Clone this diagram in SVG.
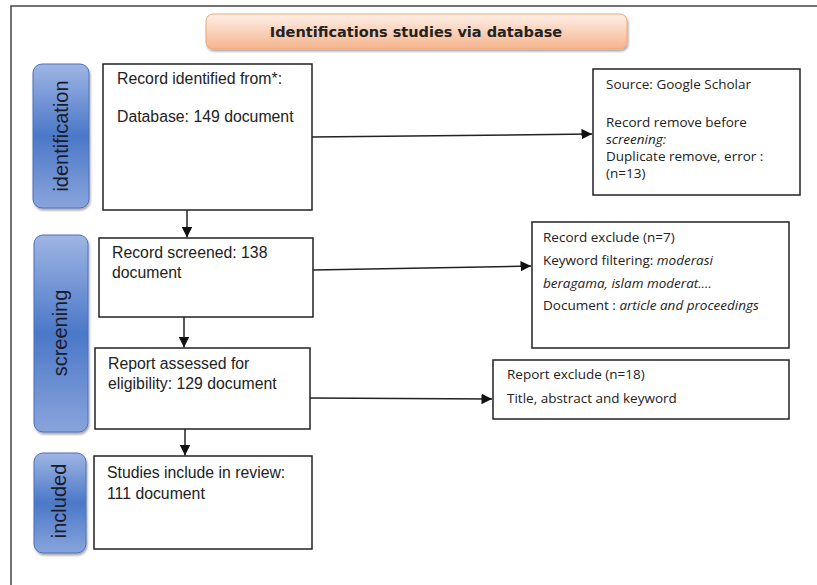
<svg xmlns="http://www.w3.org/2000/svg" width="817" height="585" viewBox="0 0 817 585">
<defs>
<style>
.box{fill:#fff;stroke:#222;stroke-width:1.5}
.t{font-family:"Liberation Sans",Arial,sans-serif;font-size:15.8px;fill:#222}
.c{font-family:"Open Sans","Noto Sans",sans-serif;font-size:13.5px;fill:#222}
.tab{fill:url(#tabg);stroke:#4a70b8;stroke-width:1;filter:url(#sh)}
.tabt{font-family:"Liberation Sans",Arial,sans-serif;font-size:20px;fill:#1c1c28}
.conn{stroke:#222;stroke-width:1.5;fill:none;marker-end:url(#ah)}
</style>
<linearGradient id="tabg" x1="0" y1="0" x2="0" y2="1">
<stop offset="0" stop-color="#9fb5e4"/>
<stop offset="0.5" stop-color="#4b78c8"/>
<stop offset="1" stop-color="#89a4dc"/>
</linearGradient>
<linearGradient id="titg" x1="0" y1="0" x2="0" y2="1">
<stop offset="0" stop-color="#fdf0e8"/>
<stop offset="1" stop-color="#f6b48c"/>
</linearGradient>
<filter id="sh" x="-20%" y="-10%" width="140%" height="120%">
<feDropShadow dx="1" dy="2" stdDeviation="1.2" flood-color="#000" flood-opacity="0.35"/>
</filter>
<marker id="ah" viewBox="0 0 10 10" refX="10" refY="5" markerWidth="7" markerHeight="7" orient="auto" markerUnits="strokeWidth">
<path d="M0,0 L10,5 L0,10 z" fill="#111"/>
</marker>
</defs>
<rect width="817" height="585" fill="#fff"/>
<path d="M11,585 V6 H817" fill="none" stroke="#444" stroke-width="1.5"/>

<g id="title">
<rect x="206" y="14" width="421" height="35" rx="7" fill="url(#titg)" stroke="#f3a577" stroke-width="1" filter="url(#sh)"/>
<text x="416" y="37" text-anchor="middle" font-family="'DejaVu Sans',Verdana,sans-serif" font-weight="bold" font-size="14.5" fill="#222">Identifications studies via database</text>
</g>

<g id="tab-identification">
<rect class="tab" x="33" y="64" width="56" height="144" rx="9"/>
<text class="tabt" transform="translate(68,136) rotate(-90)" text-anchor="middle">identification</text>
</g>
<g id="tab-screening">
<rect class="tab" x="34" y="235" width="54" height="197" rx="9"/>
<text class="tabt" transform="translate(67,333) rotate(-90)" text-anchor="middle">screening</text>
</g>
<g id="tab-included">
<rect class="tab" x="34" y="453" width="52" height="100" rx="9"/>
<text class="tabt" transform="translate(66,501) rotate(-90)" text-anchor="middle">included</text>
</g>

<g id="box-identified">
<rect class="box" x="103" y="64" width="209" height="146"/>
<text class="t" x="117" y="84">Record identified from*:</text>
<text class="t" x="117" y="122">Database: 149 document</text>
</g>
<g id="box-removed">
<rect class="box" x="593" y="69" width="207" height="126"/>
<text class="c" x="606" y="89">Source: Google Scholar</text>
<text class="c" x="606" y="127">Record remove before</text>
<text class="c" x="606" y="144" font-style="italic">screening:</text>
<text class="c" x="606" y="161">Duplicate remove, error :</text>
<text class="c" x="606" y="178">(n=13)</text>
</g>
<g id="box-screened">
<rect class="box" x="99" y="238" width="214" height="79"/>
<text class="t" x="112" y="258">Record screened: 138</text>
<text class="t" x="112" y="278">document</text>
</g>
<g id="box-excluded">
<rect class="box" x="532" y="222" width="257" height="126"/>
<text class="c" x="543" y="242">Record exclude (n=7)</text>
<text class="c" x="543" y="265">Keyword filtering: <tspan font-style="italic">moderasi</tspan></text>
<text class="c" x="543" y="288" font-style="italic">beragama, islam moderat....</text>
<text class="c" x="543" y="310">Document : <tspan font-style="italic">article and proceedings</tspan></text>
</g>
<g id="box-assessed">
<rect class="box" x="95" y="348" width="215" height="81"/>
<text class="t" x="108" y="369">Report assessed for</text>
<text class="t" x="108" y="389">eligibility: 129 document</text>
</g>
<g id="box-report-excluded">
<rect class="box" x="493" y="360" width="296" height="59"/>
<text class="c" x="507" y="379">Report exclude (n=18)</text>
<text class="c" x="507" y="403">Title, abstract and keyword</text>
</g>
<g id="box-included">
<rect class="box" x="94" y="456" width="218" height="93"/>
<text class="t" x="107" y="478">Studies include in review:</text>
<text class="t" x="107" y="499">111 document</text>
</g>

<g id="connectors">
<line class="conn" x1="312" y1="137" x2="592" y2="134"/>
<line class="conn" x1="187" y1="210" x2="187" y2="237.5"/>
<line class="conn" x1="313" y1="270" x2="531" y2="266"/>
<line class="conn" x1="184" y1="317" x2="184" y2="347.5"/>
<line class="conn" x1="310" y1="398" x2="492" y2="399"/>
<line class="conn" x1="185" y1="429" x2="185" y2="455.5"/>
</g>
</svg>
